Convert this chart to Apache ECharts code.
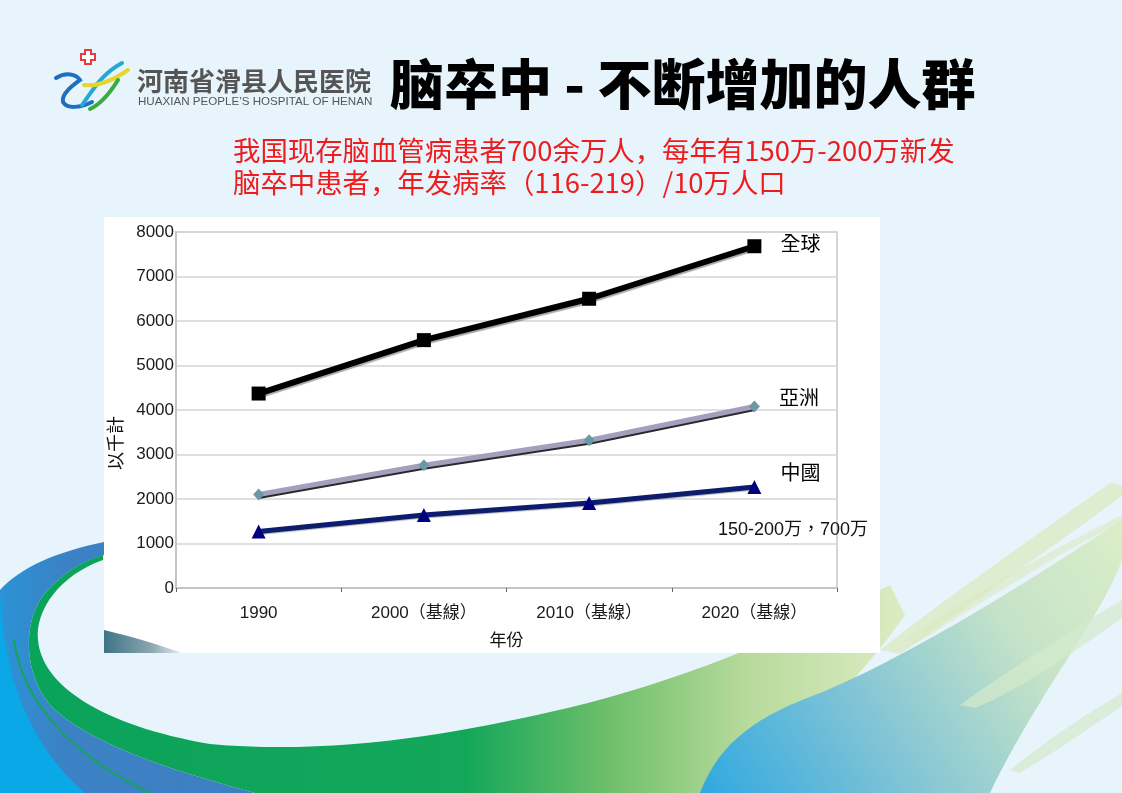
<!DOCTYPE html>
<html>
<head>
<meta charset="utf-8">
<script src="https://cdn.jsdelivr.net/npm/echarts@6/dist/echarts.min.js"></script>
<style>
html,body{margin:0;padding:0;background:#e8f4fc;}
#c{width:1122px;height:793px;}
</style>
</head>
<body>
<div id="c"></div>
<script>
// ---- data ----
const years = ['1990', '2000（基線）', '2010（基線）', '2020（基線）'];
const globalVals = [4370, 5570, 6500, 7680];
const asiaVals = [2100, 2760, 3320, 4080];
const chinaVals = [1270, 1640, 1910, 2270];
const seriesNames = ['全球', '亞洲', '中國'];
const yMin = 0, yMax = 8000, yStep = 1000;

const titleText = '脑卒中 - 不断增加的人群';
const hospitalName = '河南省滑县人民医院';
const hospitalEn = 'HUAXIAN PEOPLE\u2019S HOSPITAL OF HENAN';
const noteLines = ['我国现存脑血管病患者700余万人，每年有150万-200万新发', '脑卒中患者，年发病率（116-219）/10万人口'];
const yName = '以千計';
const xName = '年份';
const annotation = '150-200万，700万';

const FONT = '"Liberation Sans", "Noto Sans CJK TC", sans-serif';
const CJK = '"Noto Sans CJK SC", sans-serif';

// decorative shapes (slide background, logo)
const decoPaths = {
  swBlue: 'M0,590 C20,568 55,552 104,542 L104,555 C80,562 55,578 40,600 C22,630 25,680 55,710 C100,750 190,775 255,793 L0,793 Z',
  swBright: 'M0,592 C4,680 30,745 85,793 L0,793 Z',
  swStrand: 'M14,640 C22,700 70,755 150,793',
  swGreen: 'M103,560 C60,575 35,610 38,640 C42,685 100,725 210,744 C330,755 450,735 550,712 C650,690 760,650 890,585 L905,615 C860,680 800,730 760,793 L255,793 C190,775 100,750 55,710 C25,680 22,630 40,600 C55,578 80,562 103,555 Z',
  swRight: 'M700,793 C720,740 760,715 820,693 C900,660 1000,600 1122,520 L1122,560 C1100,620 1040,690 990,793 Z',
  st1: 'M880,650 C950,595 1050,525 1112,482 L1122,486 L1122,496 C1040,556 960,612 900,654 Z',
  st2: 'M905,640 C980,590 1060,545 1122,515 L1122,522 C1060,552 990,598 915,644 Z',
  st3: 'M960,705 C1020,662 1080,625 1122,600 L1122,618 C1080,648 1020,690 975,708 Z',
  st4: 'M1010,770 C1050,737 1090,712 1122,693 L1122,706 C1090,728 1050,755 1020,773 Z',
  panelShade: 'M104,630 C130,636 160,645 182,653 L104,653 Z',
  cross: 'M85,50 L91,50 L91,54 L95,54 L95,60 L91,60 L91,64 L85,64 L85,60 L81,60 L81,54 L85,54 Z',
  lgBlue: 'M56,78 C66,72 76,74 80,80 C72,86 61,94 63,102 C67,109 80,108 92,102',
  lgTeal: 'M82,105 C92,92 100,75 122,63',
  lgYellow: 'M84,85 C100,87 115,79 128,70',
  lgGreen: 'M90,109 C101,104 110,93 118,80'
};
Object.keys(decoPaths).forEach(k => {
  echarts.graphic.registerShape(k, echarts.graphic.extendPath(decoPaths[k], {}));
});

function withEndLabel(arr, name, dy) {
  return arr.map((v, i) => i === arr.length - 1 ? {
    value: v,
    label: { show: true, position: 'right', distance: 19, offset: [0, dy], formatter: name,
      fontSize: 20, color: '#000', fontFamily: '"Noto Sans CJK TC", sans-serif' }
  } : v);
}

const chart = echarts.init(document.getElementById('c'), null, { renderer: 'canvas' });

const bgElements = [
  { type: 'swBlue', z: -30,
    style: { fill: { type: 'linear', x: 0, y: 0, x2: 1, y2: 0, colorStops: [
      { offset: 0, color: '#2a93d6' }, { offset: 0.25, color: '#3b82c4' }, { offset: 1, color: '#3d7fc2' } ] } } },
  { type: 'swBright', z: -30, style: { fill: '#0aa8e6' } },
  { type: 'swStrand', z: -30, style: { fill: null, stroke: '#17a35f', lineWidth: 2 } },
  { type: 'swGreen', z: -29,
    style: { fill: { type: 'linear', x: 0, y: 0, x2: 1, y2: 0, colorStops: [
      { offset: 0, color: '#0aa35a' }, { offset: 0.5, color: '#14a75a' }, { offset: 0.66, color: '#6dbf6a' },
      { offset: 0.82, color: '#b8da9c' }, { offset: 1, color: '#dcecc2' } ] } } },
  { type: 'swRight', z: -28,
    style: { fill: { type: 'linear', x: 0, y: 1, x2: 1, y2: 0, colorStops: [
      { offset: 0, color: '#2fa8e0' }, { offset: 0.35, color: '#7fc3d6' }, { offset: 0.7, color: '#c5e3c8' }, { offset: 1, color: '#dbeec8' } ] } } },
  { type: 'st1', z: -27, style: { fill: '#dbeac2', opacity: 0.75 } },
  { type: 'st2', z: -27, style: { fill: '#dbeac2', opacity: 0.6 } },
  { type: 'st3', z: -27, style: { fill: '#d4e9cc', opacity: 0.7 } },
  { type: 'st4', z: -27, style: { fill: '#d4e9cc', opacity: 0.7 } },
  { type: 'rect', z: -20, shape: { x: 104, y: 217, width: 776, height: 436 }, style: { fill: '#ffffff' } },
  { type: 'panelShade', z: -19,
    style: { fill: { type: 'linear', x: 0, y: 0, x2: 1, y2: 0, colorStops: [
      { offset: 0, color: '#3f7385' }, { offset: 0.6, color: '#8aa6b0' }, { offset: 1, color: '#e8eef0' } ] } } },
  { type: 'cross', z: 5, style: { fill: '#fff', stroke: '#e53a3f', lineWidth: 2 } },
  { type: 'lgBlue', z: 5, style: { fill: null, stroke: '#1f6fc1', lineWidth: 4, lineCap: 'round' } },
  { type: 'lgTeal', z: 5, style: { fill: null, stroke: '#27a7d8', lineWidth: 4, lineCap: 'round' } },
  { type: 'lgYellow', z: 5, style: { fill: null, stroke: '#e6d52c', lineWidth: 4, lineCap: 'round' } },
  { type: 'lgGreen', z: 5, style: { fill: null, stroke: '#3aab3e', lineWidth: 4, lineCap: 'round' } },
  { type: 'text', z: 5, x: 137, y: 81, style: { text: hospitalName, fill: '#555', font: 'bold 26px ' + CJK, verticalAlign: 'middle' } },
  { type: 'text', z: 5, x: 138, y: 102, style: { text: hospitalEn, fill: '#555', font: '11.6px "Liberation Sans Narrow", "Liberation Sans", sans-serif', verticalAlign: 'middle' } },
  { type: 'text', z: 5, x: 390, y: 84, style: { text: titleText, fill: '#000', font: '900 54px ' + CJK, verticalAlign: 'middle' } },
  { type: 'text', z: 5, x: 233, y: 151, style: { text: noteLines[0], fill: '#ee1c1c', font: '27.4px ' + CJK, verticalAlign: 'middle' } },
  { type: 'text', z: 5, x: 233, y: 183, style: { text: noteLines[1], fill: '#ee1c1c', font: '27.4px ' + CJK, verticalAlign: 'middle' } },
  { type: 'text', z: 5, x: 117, y: 443, rotation: Math.PI / 2, style: { text: yName, fill: '#111', font: '18px ' + FONT, align: 'center', verticalAlign: 'middle' } },
  { type: 'text', z: 5, x: 718, y: 530, style: { text: annotation, fill: '#111', font: '18px ' + FONT, verticalAlign: 'middle' } }
];

const option = {
  animation: false,
  backgroundColor: '#e8f4fc',
  graphic: bgElements,
  grid: { left: 176, right: 285, top: 232, bottom: 205, show: true, borderColor: '#c8c8c8', borderWidth: 1.5, backgroundColor: 'transparent' },
  xAxis: {
    type: 'category', data: years, boundaryGap: true,
    name: xName, nameLocation: 'middle', nameGap: 45,
    nameTextStyle: { fontSize: 17, color: '#111', fontFamily: FONT },
    axisLine: { lineStyle: { color: '#c4c4c4', width: 2 } },
    axisTick: { show: true, length: 4, lineStyle: { color: '#666' } },
    axisLabel: { fontSize: 17, color: '#1a1a1a', margin: 17, fontFamily: FONT }
  },
  yAxis: {
    type: 'value', min: yMin, max: yMax, interval: yStep,
    axisLine: { show: true, lineStyle: { color: '#c4c4c4', width: 2 } },
    axisTick: { show: false },
    axisLabel: { fontSize: 17, color: '#1a1a1a', margin: 2, fontFamily: FONT, formatter: v => String(v) },
    splitLine: { lineStyle: { color: '#d6d6d6', width: 1.5 } }
  },
  series: [
    { name: seriesNames[0], type: 'line', data: withEndLabel(globalVals, seriesNames[0], -3),
      symbol: 'rect', symbolSize: 14, z: 4,
      lineStyle: { color: '#000', width: 6, shadowColor: 'rgba(0,0,0,0.35)', shadowOffsetY: 2, shadowBlur: 1 },
      itemStyle: { color: '#000' } },
    { name: seriesNames[1], type: 'line', data: withEndLabel(asiaVals, seriesNames[1], -9),
      symbol: 'diamond', symbolSize: [11, 12], z: 3,
      lineStyle: { color: '#a49fbd', width: 5, shadowColor: '#2a2a2a', shadowOffsetY: 2, shadowBlur: 0 },
      itemStyle: { color: '#6a98a4' } },
    { name: seriesNames[2], type: 'line', data: withEndLabel(chinaVals, seriesNames[2], -15),
      symbol: 'triangle', symbolSize: 14, z: 3,
      lineStyle: { color: '#0c1d70', width: 5, shadowColor: 'rgba(0,0,0,0.3)', shadowOffsetY: 1, shadowBlur: 1 },
      itemStyle: { color: '#00007e' } }
  ]
};
chart.setOption(option);
</script>
</body>
</html>
